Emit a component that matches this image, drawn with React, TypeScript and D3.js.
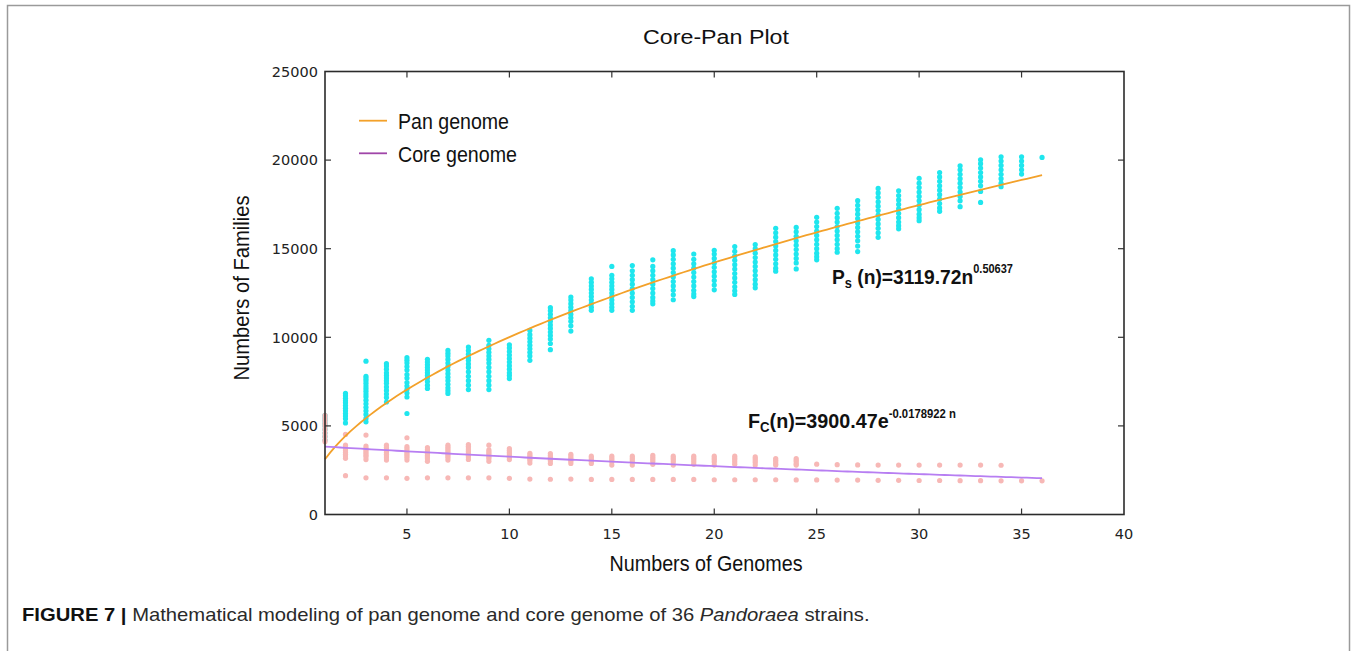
import * as d3 from 'd3';
import React, { useEffect, useRef } from 'react';

// genomes sampled (x) and observed family counts for each sample size
const genomeCounts = d3.range(1, 37);

const panFamilies: number[][] = [
  [5600, 5450, 5300, 5150, 5000, 4800, 4600, 4400, 4200],
  [6830, 6700, 6560, 6420, 6300, 6150, 6000, 5850, 5700, 5560, 5400, 5170],
  [8650, 7800, 7680, 7550, 7400, 7250, 7100, 6950, 6800, 6650, 6450, 6250, 6050, 5850, 5650, 5420, 5230],
  [8510, 8380, 8200, 8000, 7850, 7700, 7550, 7400, 7200, 7000, 6800, 6600, 6350],
  [8850, 8700, 8550, 8350, 8150, 7900, 7700, 7450, 7250, 7050, 6850, 6630, 5700],
  [8760, 8600, 8450, 8300, 8150, 8000, 7850, 7700, 7500, 7300, 7110],
  [9260, 9100, 8950, 8750, 8550, 8350, 8150, 7950, 7750, 7550, 7350, 7150, 6990, 6830],
  [9450, 9250, 9050, 8850, 8700, 8500, 8300, 8050, 7800, 7550, 7300, 7050],
  [9830, 9550, 9350, 9150, 8950, 8750, 8550, 8300, 8050, 7800, 7550, 7300, 7050],
  [9580, 9400, 9200, 9000, 8800, 8600, 8400, 8200, 8000, 7850, 7670],
  [10390, 10150, 9950, 9750, 9550, 9350, 9150, 8950, 8700],
  [11670, 11500, 11300, 11100, 10900, 10700, 10500, 10300, 10100, 9900, 9650, 9300],
  [12270, 12100, 11900, 11700, 11500, 11300, 11100, 10900, 10650, 10350],
  [13300, 13100, 12900, 12700, 12500, 12300, 12100, 11900, 11700, 11520],
  [14000, 13500, 13300, 13100, 12900, 12700, 12500, 12300, 12100, 11900, 11700, 11520],
  [14050, 13750, 13500, 13250, 13000, 12750, 12500, 12250, 12000, 11750, 11520],
  [14370, 14000, 13750, 13500, 13250, 13000, 12750, 12500, 12250, 12050, 11890],
  [14890, 14650, 14400, 14150, 13900, 13650, 13400, 13150, 12900, 12650, 12400, 12120],
  [14700, 14400, 14150, 13900, 13650, 13400, 13150, 12900, 12650, 12450, 12300],
  [14910, 14700, 14450, 14200, 13950, 13700, 13450, 13200, 12950, 12680],
  [15120, 14850, 14600, 14350, 14100, 13850, 13600, 13350, 13100, 12850, 12620, 12420],
  [15230, 15000, 14750, 14500, 14250, 14000, 13750, 13500, 13250, 13000, 12790],
  [16150, 15900, 15650, 15400, 15150, 14900, 14650, 14400, 14150, 13900, 13730],
  [16200, 15950, 15700, 15450, 15200, 14950, 14700, 14450, 14200, 13860],
  [16770, 16500, 16250, 16000, 15750, 15500, 15250, 15000, 14750, 14550, 14370],
  [17280, 17000, 16750, 16500, 16250, 16000, 15750, 15500, 15250, 15000, 14800],
  [17710, 17450, 17200, 16950, 16700, 16450, 16200, 15950, 15700, 15450, 15150, 14840],
  [18400, 18150, 17900, 17650, 17400, 17150, 16900, 16650, 16400, 16150, 15900, 15640],
  [18270, 18000, 17750, 17500, 17250, 17000, 16750, 16500, 16300, 16120],
  [18970, 18700, 18450, 18200, 17950, 17700, 17450, 17200, 16950, 16750, 16580],
  [19300, 19050, 18800, 18550, 18300, 18050, 17800, 17550, 17300, 17110],
  [19680, 19450, 19200, 18950, 18700, 18450, 18200, 17950, 17700, 17370],
  [20020, 19800, 19550, 19300, 19050, 18800, 18550, 18230, 17610],
  [20190, 19950, 19700, 19450, 19200, 18950, 18700, 18500],
  [20190, 19950, 19700, 19450, 19210],
  [20150],
];

const coreFamilies: number[][] = [
  [5600, 5450, 5300, 5150, 5000, 4800, 4600, 4400, 4200, 4100],
  [4520, 3910, 3800, 3700, 3600, 3500, 3400, 3300, 3170, 2190],
  [4480, 3860, 3750, 3650, 3550, 3450, 3350, 3250, 3100, 2070],
  [3910, 3800, 3700, 3600, 3500, 3400, 3300, 3200, 3070, 2070],
  [4330, 3830, 3720, 3600, 3500, 3400, 3300, 3200, 3070, 2040],
  [3770, 3650, 3550, 3450, 3350, 3250, 3150, 3000, 2070],
  [3910, 3800, 3700, 3600, 3500, 3400, 3300, 3200, 3070, 2070],
  [3950, 3850, 3750, 3650, 3550, 3450, 3350, 3250, 3110, 2070],
  [3910, 3650, 3550, 3450, 3350, 3250, 3150, 3000, 2070],
  [3720, 3620, 3520, 3420, 3320, 3220, 3100, 2040],
  [3450, 3350, 3250, 3150, 3050, 2900, 2000],
  [3440, 3330, 3230, 3130, 3030, 2880, 1990],
  [3400, 3300, 3200, 3100, 3000, 2880, 2000],
  [3290, 3200, 3100, 3000, 2880, 1980],
  [3290, 3180, 3070, 2960, 2790, 1980],
  [3290, 3180, 3070, 2960, 2790, 1980],
  [3340, 3230, 3120, 3000, 2830, 1980],
  [3290, 3180, 3070, 2960, 2790, 1980],
  [3290, 3180, 3070, 2960, 2830, 1980],
  [3290, 3180, 3070, 2960, 2790, 1960],
  [3290, 3180, 3070, 2960, 2830, 1960],
  [3250, 3150, 3040, 2930, 2790, 1960],
  [3160, 3060, 2960, 2850, 2790, 1960],
  [3160, 3060, 2960, 2850, 2790, 1950],
  [2840, 1950],
  [2810, 1940],
  [2800, 1940],
  [2790, 1930],
  [2790, 1930],
  [2790, 1920],
  [2790, 1920],
  [2790, 1910],
  [2790, 1910],
  [2780, 1900],
  [1900],
  [1900],
];

// fitted models printed on the chart
const panFit = { a: 3119.72, b: 0.50637 };
const coreFit = { a: 3900.47, b: -0.0178922 };

const xTicks = [5, 10, 15, 20, 25, 30, 35, 40];
const yTicks = [0, 5000, 10000, 15000, 20000, 25000];
const legendItems = [
  { label: 'Pan genome', color: '#f3a12a' },
  { label: 'Core genome', color: '#a046a8' },
];

const W = 1357;
const H = 651;

// squeeze a text (with tspans) horizontally to a target width, anchored at ax
const fitWidth = (sel: d3.Selection<SVGTextElement, unknown, null, undefined>, target: number, ax: number) => {
  const node = sel.node();
  if (!node) return;
  const w = node.getComputedTextLength();
  if (!w) return;
  const k = target / w;
  sel.attr('transform', `translate(${ax},0) scale(${k},1) translate(${-ax},0)`);
};

export default function App() {
  const ref = useRef<SVGSVGElement | null>(null);

  useEffect(() => {
    const svg = d3.select(ref.current);
    svg.selectAll('*').remove();

    const left = 325;
    const right = 1124;
    const top = 71.5;
    const bottom = 514.5;

    const x = d3.scaleLinear().domain([1, 40]).range([left, right]);
    const y = d3.scaleLinear().domain([0, 25000]).range([bottom, top]);

    svg.append('rect').attr('width', W).attr('height', H).attr('fill', '#fff');

    // figure frame
    svg
      .append('rect')
      .attr('x', 7.5)
      .attr('y', 5.5)
      .attr('width', 1342)
      .attr('height', 700)
      .attr('fill', 'none')
      .attr('stroke', '#9a9a9a')
      .attr('stroke-width', 1.5);

    // scatter: pan then core
    const pts = (rows: number[][]) =>
      rows.flatMap((vals, i) => vals.map(v => ({ n: genomeCounts[i], v })));

    svg
      .append('g')
      .selectAll('circle')
      .data(pts(panFamilies))
      .join('circle')
      .attr('cx', d => x(d.n))
      .attr('cy', d => y(d.v))
      .attr('r', 2.6)
      .attr('fill', '#1fe6ee');

    svg
      .append('g')
      .selectAll('circle')
      .data(pts(coreFamilies))
      .join('circle')
      .attr('cx', d => x(d.n))
      .attr('cy', d => y(d.v))
      .attr('r', 2.6)
      .attr('fill', '#f7b8b6');

    // fitted curves
    const ns = d3.range(1, 36.001, 0.25);
    const line = d3
      .line<number[]>()
      .x(d => x(d[0]))
      .y(d => y(d[1]));

    svg
      .append('path')
      .attr('d', line(ns.map(n => [n, panFit.a * Math.pow(n, panFit.b)])))
      .attr('fill', 'none')
      .attr('stroke', '#f3a12a')
      .attr('stroke-width', 1.8);

    svg
      .append('path')
      .attr('d', line(ns.map(n => [n, coreFit.a * Math.exp(coreFit.b * n)])))
      .attr('fill', 'none')
      .attr('stroke', '#b77ef2')
      .attr('stroke-width', 1.8);

    // axis box
    svg
      .append('rect')
      .attr('x', left)
      .attr('y', top)
      .attr('width', right - left)
      .attr('height', bottom - top)
      .attr('fill', 'none')
      .attr('stroke', '#2b2b2b')
      .attr('stroke-width', 1.6);

    const tickFont = 'DejaVu Sans, Verdana, sans-serif';

    xTicks.forEach(t => {
      const xp = x(t);
      if (t < 40) {
        svg.append('line').attr('x1', xp).attr('x2', xp).attr('y1', bottom).attr('y2', bottom - 6).attr('stroke', '#333').attr('stroke-width', 1.2);
        svg.append('line').attr('x1', xp).attr('x2', xp).attr('y1', top).attr('y2', top + 6).attr('stroke', '#333').attr('stroke-width', 1.2);
      }
      svg
        .append('text')
        .attr('x', xp)
        .attr('y', bottom + 24)
        .attr('text-anchor', 'middle')
        .attr('font-family', tickFont)
        .attr('font-size', 14.5)
        .attr('fill', '#222')
        .text(t);
    });

    yTicks.forEach(t => {
      const yp = y(t);
      if (t > 0 && t < 25000) {
        svg.append('line').attr('x1', left).attr('x2', left + 6).attr('y1', yp).attr('y2', yp).attr('stroke', '#333').attr('stroke-width', 1.2);
        svg.append('line').attr('x1', right).attr('x2', right - 6).attr('y1', yp).attr('y2', yp).attr('stroke', '#333').attr('stroke-width', 1.2);
      }
      svg
        .append('text')
        .attr('x', left - 7)
        .attr('y', yp)
        .attr('dy', '0.36em')
        .attr('text-anchor', 'end')
        .attr('font-family', tickFont)
        .attr('font-size', 14.5)
        .attr('fill', '#222')
        .text(t);
    });

    const labelFont = 'Liberation Sans, Arial, sans-serif';

    svg
      .append('text')
      .attr('x', 716)
      .attr('y', 44)
      .attr('text-anchor', 'middle')
      .attr('font-family', labelFont)
      .attr('font-size', 20)
      .attr('textLength', 146)
      .attr('lengthAdjust', 'spacingAndGlyphs')
      .attr('fill', '#111')
      .text('Core-Pan Plot');

    svg
      .append('text')
      .attr('x', 706)
      .attr('y', 571)
      .attr('text-anchor', 'middle')
      .attr('font-family', labelFont)
      .attr('font-size', 22)
      .attr('textLength', 193)
      .attr('lengthAdjust', 'spacingAndGlyphs')
      .attr('fill', '#111')
      .text('Numbers of Genomes');

    svg
      .append('text')
      .attr('transform', `translate(249,288) rotate(-90)`)
      .attr('text-anchor', 'middle')
      .attr('font-family', labelFont)
      .attr('font-size', 22)
      .attr('textLength', 185)
      .attr('lengthAdjust', 'spacingAndGlyphs')
      .attr('fill', '#111')
      .text('Numbers of Families');

    // legend
    legendItems.forEach((item, i) => {
      const ly = 120.7 + i * 32.6;
      svg.append('line').attr('x1', 359).attr('x2', 387).attr('y1', ly).attr('y2', ly).attr('stroke', item.color).attr('stroke-width', 1.8);
      svg
        .append('text')
        .attr('x', 398)
        .attr('y', ly + 8.5)
        .attr('font-family', labelFont)
        .attr('font-size', 22)
        .attr('textLength', i === 0 ? 111 : 119)
        .attr('lengthAdjust', 'spacingAndGlyphs')
        .attr('fill', '#111')
        .text(item.label);
    });

    // equations
    const eqP = svg
      .append('text')
      .attr('x', 832)
      .attr('y', 284)
      .attr('font-family', labelFont)
      .attr('font-weight', 'bold')
      .attr('font-size', 21)
      .attr('fill', '#111');
    eqP.append('tspan').text('P');
    eqP.append('tspan').attr('font-size', 14).attr('dy', 4).text('s');
    eqP.append('tspan').attr('dy', -4).text(' (n)=3119.72n');
    eqP.append('tspan').attr('font-size', 12).attr('dy', -11).text(`${panFit.b}`);
    fitWidth(eqP, 181, 832);

    const eqF = svg
      .append('text')
      .attr('x', 748)
      .attr('y', 428)
      .attr('font-family', labelFont)
      .attr('font-weight', 'bold')
      .attr('font-size', 21)
      .attr('fill', '#111');
    eqF.append('tspan').text('F');
    eqF.append('tspan').attr('font-size', 14).attr('dy', 4).text('C');
    eqF.append('tspan').attr('dy', -4).text('(n)=3900.47e');
    eqF.append('tspan').attr('font-size', 12).attr('dy', -10).text(`${coreFit.b} n`);
    fitWidth(eqF, 208, 748);

    // caption
    const cap = svg
      .append('text')
      .attr('x', 22)
      .attr('y', 621)
      .attr('font-family', labelFont)
      .attr('font-size', 17.5)
      .attr('fill', '#2a2a2a');
    cap.append('tspan').attr('font-weight', 'bold').attr('fill', '#111').text('FIGURE 7 | ');
    cap.append('tspan').text('Mathematical modeling of pan genome and core genome of 36 ');
    cap.append('tspan').attr('font-style', 'italic').text('Pandoraea');
    cap.append('tspan').text(' strains.');
    fitWidth(cap, 848, 22);
  }, []);

  return (
    <svg
      ref={ref}
      width={W}
      height={H}
      style={{ position: 'absolute', left: 0, top: 0, display: 'block' }}
    />
  );
}
